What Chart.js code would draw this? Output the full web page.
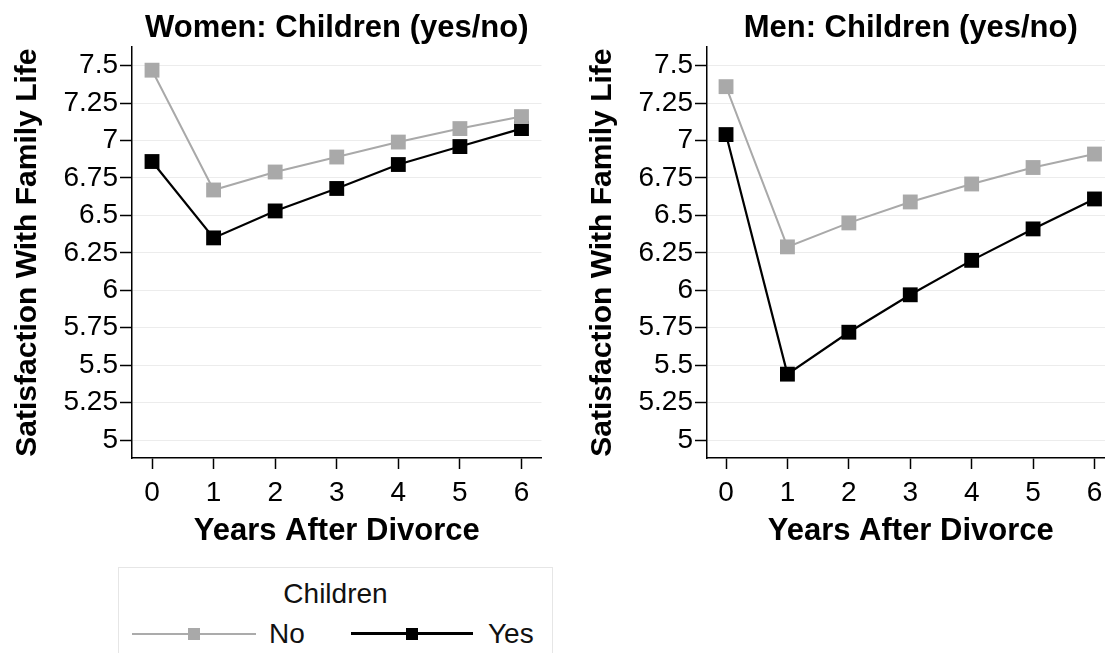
<!DOCTYPE html>
<html>
<head>
<meta charset="utf-8">
<script src="https://cdn.jsdelivr.net/npm/chart.js@4.4.1/dist/chart.umd.min.js"></script>
<style>
  body { margin: 0; width: 1105px; height: 653px; overflow: hidden; background: #fff; position: relative;
         font-family: 'Liberation Sans', Arial, sans-serif; }
  #women { position: absolute; left: 0; top: 0; }
  #men { position: absolute; left: 575px; top: 0; }
  #legend { position: absolute; left: 118px; top: 567px; width: 435px; height: 100px;
            border: 1px solid #e6e6e6; box-sizing: border-box; }
  #legend .ltitle { position: absolute; left: 0; width: 100%; top: 10px; text-align: center;
                    font-size: 28px; line-height: 32px; color: #111; }
  #legend .line { position: absolute; }
  #legend .sq { position: absolute; width: 12px; height: 12px; }
  #legend .lab { position: absolute; top: 50px; font-size: 28px; line-height: 32px; color: #111; }
</style>
</head>
<body>
<canvas id="women" width="552" height="560"></canvas>
<canvas id="men" width="550" height="560"></canvas>
<div id="legend">
  <div class="ltitle">Children</div>
  <div class="line" style="left:13px;top:65px;width:124px;height:2px;background:#ababab"></div>
  <div class="sq" style="left:69px;top:60px;background:#a9a9a9"></div>
  <div class="lab" style="left:150px">No</div>
  <div class="line" style="left:232px;top:64px;width:122px;height:3px;background:#000"></div>
  <div class="sq" style="left:287px;top:60px;background:#000"></div>
  <div class="lab" style="left:369px">Yes</div>
</div>
<script>
const FONT = "'Liberation Sans', Arial, sans-serif";

const years = [0, 1, 2, 3, 4, 5, 6];
const yTicks = [5, 5.25, 5.5, 5.75, 6, 6.25, 6.5, 6.75, 7, 7.25, 7.5];

const womenNo  = [7.47, 6.67, 6.79, 6.89, 6.99, 7.08, 7.16];
const womenYes = [6.86, 6.35, 6.53, 6.68, 6.84, 6.96, 7.08];
const menNo    = [7.36, 6.29, 6.45, 6.59, 6.71, 6.82, 6.91];
const menYes   = [7.04, 5.44, 5.72, 5.97, 6.20, 6.41, 6.61];

const grayCol = '#a9a9a9';

function series(vals) {
    return years.map((x, i) => ({ x: x, y: vals[i] }));
}

function makeChart(id, title, noVals, yesVals, xMin, xMax) {
    const ctx = document.getElementById(id).getContext('2d');
    return new Chart(ctx, {
        type: 'line',
        data: {
            datasets: [
                {
                    label: 'No',
                    data: series(noVals),
                    borderColor: grayCol,
                    backgroundColor: grayCol,
                    borderWidth: 2,
                    pointStyle: 'rect',
                    pointRadius: 10.5,
                    pointBorderWidth: 0,
                    tension: 0,
                    clip: false
                },
                {
                    label: 'Yes',
                    data: series(yesVals),
                    borderColor: '#000',
                    backgroundColor: '#000',
                    borderWidth: 2.2,
                    pointStyle: 'rect',
                    pointRadius: 10.5,
                    pointBorderWidth: 0,
                    tension: 0,
                    clip: false
                }
            ]
        },
        options: {
            responsive: false,
            animation: false,
            layout: { padding: 0 },
            plugins: {
                legend: { display: false },
                tooltip: { enabled: false },
                title: {
                    display: true,
                    text: title,
                    fullSize: false,
                    color: '#000',
                    font: { family: FONT, size: 31, weight: 'bold', lineHeight: 1.2 },
                    padding: { top: 10, bottom: 0 }
                }
            },
            scales: {
                x: {
                    type: 'linear',
                    min: xMin,
                    max: xMax,
                    afterBuildTicks: axis => { axis.ticks = years.map(v => ({ value: v })); },
                    afterFit: scale => { scale.height = 102; },
                    grid: { drawOnChartArea: false, tickLength: 11, tickColor: '#000', tickWidth: 1.5 },
                    border: { color: '#000', width: 1.5 },
                    ticks: { padding: 7, color: '#000', font: { family: FONT, size: 28 }, callback: v => String(v) },
                    title: {
                        display: true,
                        text: 'Years After Divorce',
                        color: '#000',
                        font: { family: FONT, size: 31, weight: 'bold', lineHeight: 1.2 },
                        padding: { top: 0, bottom: 10 }
                    }
                },
                y: {
                    min: 4.88,
                    max: 7.6235,
                    afterBuildTicks: axis => { axis.ticks = yTicks.map(v => ({ value: v })); },
                    afterFit: scale => { scale.width = 132; },
                    grid: { color: '#ececec', lineWidth: 1, tickColor: '#000', tickLength: 12, tickWidth: 1.5 },
                    border: { color: '#000', width: 1.5 },
                    ticks: { padding: 2, color: '#000', font: { family: FONT, size: 28 }, callback: v => String(v) },
                    title: {
                        display: true,
                        text: 'Satisfaction With Family Life',
                        color: '#000',
                        font: { family: FONT, size: 30, weight: 'bold', lineHeight: 1.2 },
                        padding: { top: 10, bottom: 0 }
                    }
                }
            }
        }
    });
}

makeChart('women', 'Women: Children (yes/no)', womenNo, womenYes, -0.325, 6.325);
makeChart('men', 'Men: Children (yes/no)', menNo, menYes, -0.31, 6.326);
</script>
</body>
</html>
